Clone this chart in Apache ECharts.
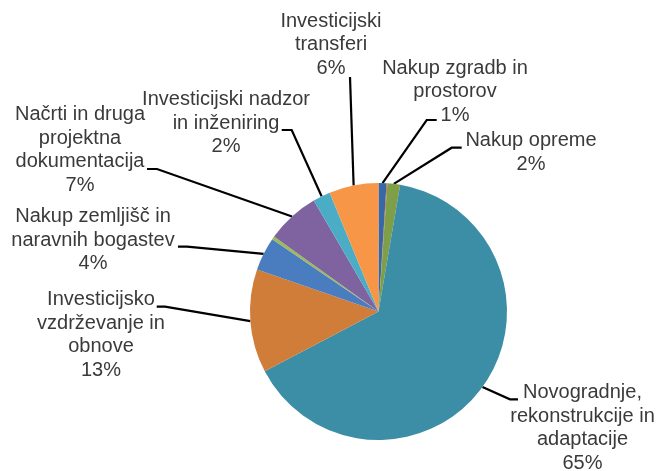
<!DOCTYPE html>
<html>
<head>
<meta charset="utf-8">
<script src="https://cdn.jsdelivr.net/npm/echarts@6/dist/echarts.min.js"></script>
<style>
html,body{margin:0;padding:0;background:#fff;}
#chart{width:660px;height:471px;}
</style>
</head>
<body>
<div id="chart"></div>
<script>
// ---- data ----
var categories = [
  'Nakup zgradb in prostorov',
  'Drugo A',
  'Nakup opreme',
  'Novogradnje, rekonstrukcije in adaptacije',
  'Investicijsko vzdrževanje in obnove',
  'Nakup zemljišč in naravnih bogastev',
  'Drugo B',
  'Načrti in druga projektna dokumentacija',
  'Investicijski nadzor in inženiring',
  'Investicijski transferi'
];
var values = [1.0, 0.1, 1.6, 64.6, 13.0, 4.2, 0.4, 6.7, 2.2, 6.2];
var labelTexts = [
  'Nakup zgradb in\nprostorov',
  '',
  'Nakup opreme',
  'Novogradnje,\nrekonstrukcije in\nadaptacije',
  'Investicijsko\nvzdrževanje in\nobnove',
  'Nakup zemljišč in\nnaravnih bogastev',
  '',
  'Načrti in druga\nprojektna\ndokumentacija',
  'Investicijski nadzor\nin inženiring',
  'Investicijski\ntransferi'
];
var colors = ['#3867A6', '#B4603F', '#7E9E48', '#3C8EA6', '#CF7D39',
              '#4A7DBF', '#9BBB59', '#7F63A1', '#4BACC6', '#F79646'];

// ---- label layout (positions in px: text centre x, block top y, elbow, end) ----
var labelPos = {
  0: {x: 455, y: 56.5, elbow: [426.7, 120], end: [436.7, 120]},
  2: {x: 531, y: 129, elbow: [451.7, 147.7], end: [461.7, 147.7]},
  3: {x: 582.5, y: 381, elbow: [510, 399.3], end: [518, 399.3]},
  4: {x: 101, y: 288, elbow: [165, 306.7], end: [156.7, 306.7]},
  5: {x: 93, y: 205, elbow: [187, 246.7], end: [178, 246.7]},
  7: {x: 80, y: 103, elbow: [157, 169], end: [147, 169]},
  8: {x: 226, y: 88, elbow: [291.7, 130], end: [281.7, 130]},
  9: {x: 331, y: 9.7, elbow: [350, 77], end: [350, 77]}
};

var data = categories.map(function (c, i) {
  var hasLabel = labelTexts[i] !== '';
  return {
    name: c,
    value: values[i],
    itemStyle: {color: colors[i]},
    label: {show: hasLabel},
    labelLine: {show: hasLabel}
  };
});

var chart = echarts.init(document.getElementById('chart'), null, {renderer: 'canvas'});
chart.setOption({
  animation: false,
  backgroundColor: '#ffffff',
  series: [{
    type: 'pie',
    center: [378.5, 311.5],
    radius: 128.5,
    startAngle: 90,
    clockwise: true,
    percentPrecision: 0,
    avoidLabelOverlap: false,
    itemStyle: {borderWidth: 0},
    emphasis: {disabled: true},
    label: {
      position: 'outer',
      alignTo: 'none',
      fontFamily: 'Liberation Sans, Arial, sans-serif',
      fontSize: 20,
      lineHeight: 23.5,
      color: '#3a3a3a',
      align: 'center',
      formatter: function (p) {
        return labelTexts[p.dataIndex] + '\n' + p.percent + '%';
      }
    },
    labelLine: {
      show: true,
      length: 10,
      length2: 10,
      lineStyle: {color: '#000000', width: 2.2}
    },
    labelLayout: function (params) {
      var lp = labelPos[params.dataIndex];
      if (!lp || !params.labelLinePoints) { return {}; }
      var start = params.labelLinePoints[0];
      return {
        x: lp.x,
        y: lp.y,
        align: 'center',
        verticalAlign: 'top',
        labelLinePoints: [start, lp.elbow, lp.end]
      };
    },
    data: data
  }]
});
</script>
</body>
</html>
